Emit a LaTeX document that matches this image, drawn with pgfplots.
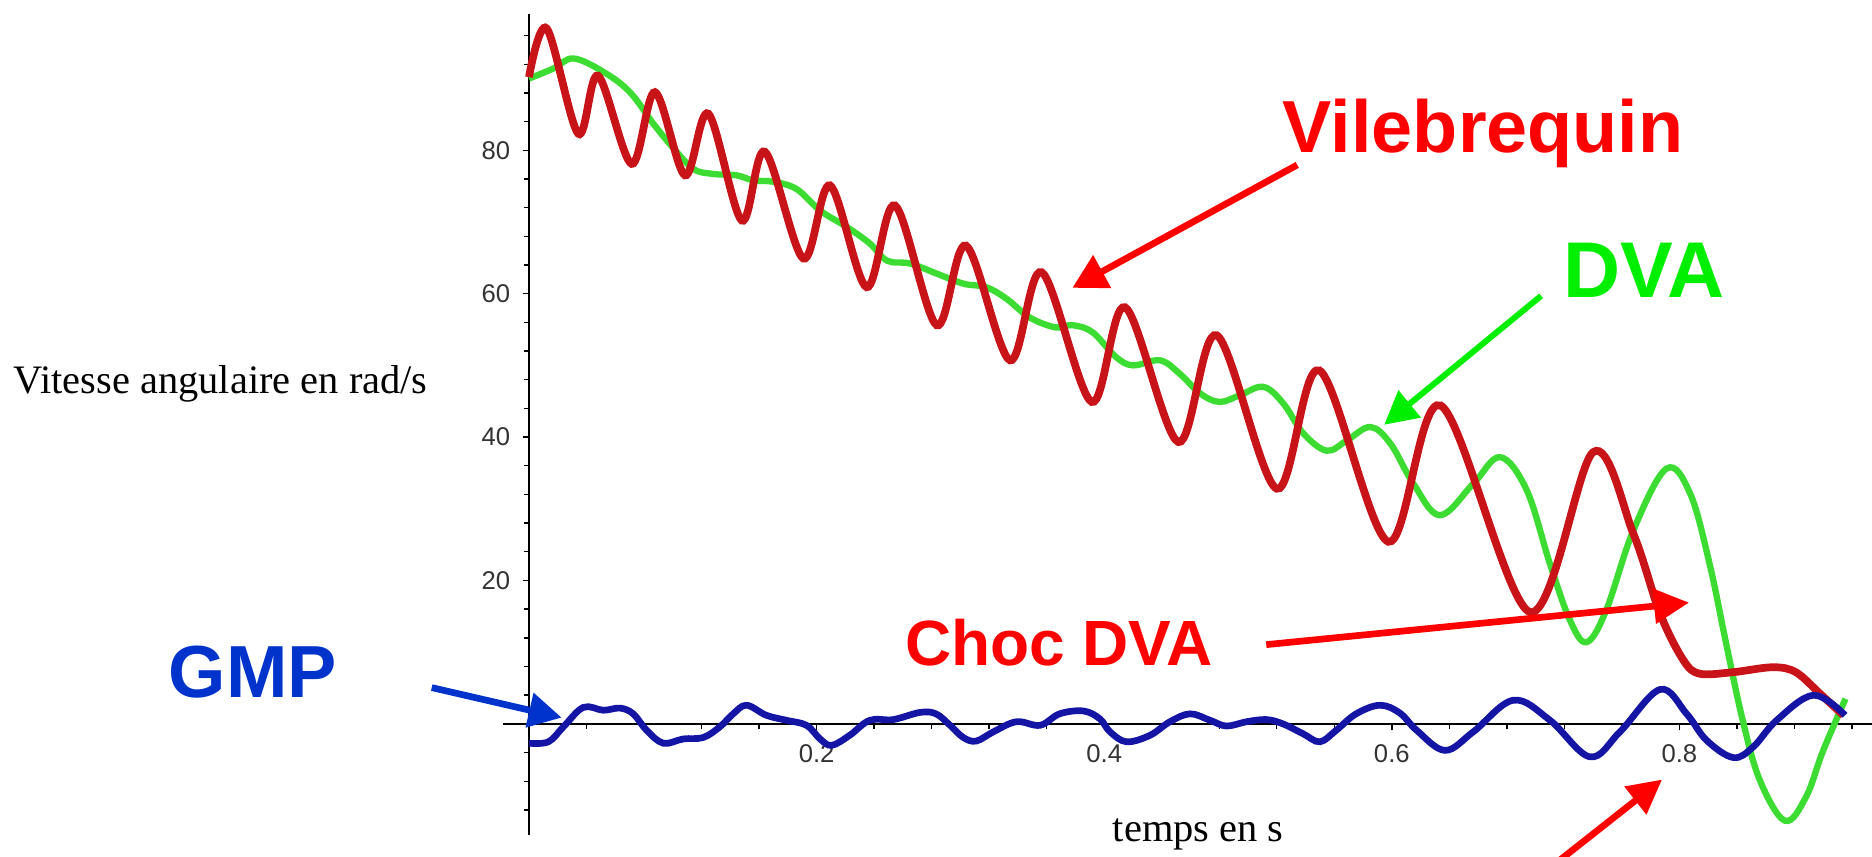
\documentclass[border=0pt]{standalone}
\usepackage{fontspec}
\setmainfont{Liberation Serif}
\setsansfont{Liberation Sans}
\usepackage{pgfplots}
\pgfplotsset{compat=1.18}
\usetikzlibrary{arrows.meta}
\definecolor{curvered}{RGB}{200,20,25}
\definecolor{curvegreen}{RGB}{60,220,50}
\definecolor{curveblue}{RGB}{20,20,165}
\definecolor{lblred}{RGB}{255,0,0}
\definecolor{lblgreen}{RGB}{0,238,0}
\definecolor{lblblue}{RGB}{0,51,204}
\begin{document}
\begin{tikzpicture}
\path[use as bounding box] (0,0) rectangle (18.72cm,8.56cm);
\begin{axis}[
  at={(5.031cm,0.21cm)}, anchor=south west,
  scale only axis, width=13.69cm, height=8.21cm,
  xmin=-0.018, xmax=0.934, ymin=-15.5, ymax=99,
  axis lines=middle, axis line style={-, line width=0.5pt, black},
  xtick={0.2,0.4,0.6,0.8}, ytick={20,40,60,80},
  xticklabels={0.2,0.4,0.6,0.8}, yticklabels={20,40,60,80},
  minor xtick={0.04,0.08,0.12,0.16,0.24,0.28,0.32,0.36,0.44,0.48,0.52,0.56,0.64,0.68,0.72,0.76,0.84,0.88,0.92},
  minor ytick={-12,-8,-4,4,8,12,16,24,28,32,36,44,48,52,56,64,68,72,76,84,88,92,96},
  tick align=outside, major tick length=1.8pt, minor tick length=1.4pt,
  tick style={black, line width=0.4pt},
  ticklabel style={font=\sffamily\fontsize{7.3}{8}\selectfont, text=black!80},
  xticklabel style={yshift=-0.5pt},
  clip=false,
]
\addplot[curvegreen, line width=1.8pt, smooth, tension=0.6] coordinates {
(0,90.0) (0.017,91.4) (0.031,92.8) (0.052,90.9) (0.0702,88.1) (0.0865,83.7)
(0.100,80.4) (0.1143,77.4) (0.128,76.7) (0.1444,76.5) (0.156,75.8) (0.170,75.6)
(0.186,74.6) (0.2024,71.6) (0.221,69.3) (0.237,67.0) (0.249,64.6) (0.265,64.2)
(0.2835,62.8) (0.302,61.4) (0.318,60.9) (0.332,59.3) (0.348,56.7) (0.366,55.3)
(0.378,55.6) (0.392,54.6) (0.408,51.2) (0.420,50.0) (0.4388,50.7) (0.4527,48.8)
(0.4666,46.1) (0.480,44.9) (0.494,45.8) (0.5106,47.0) (0.5245,44.7) (0.5385,40.5)
(0.5547,38.1) (0.5686,39.5) (0.585,41.4) (0.599,39.1) (0.615,33.5) (0.6335,29.1)
(0.6567,33.5) (0.6753,37.2) (0.6938,32.6) (0.710,22.3) (0.724,14.4) (0.7355,11.4)
(0.749,15.8) (0.768,27.0) (0.791,35.6) (0.8075,32.1) (0.821,22.3) (0.8325,11.2)
(0.844,0.5) (0.856,-7.9) (0.8734,-13.5) (0.888,-10.2) (0.900,-3.7) (0.9155,3.5)
};
\addplot[curvered, line width=2.2pt, smooth, tension=0.55] coordinates {
(0,90.2) (0.0123,97.0) (0.0343,82.3) (0.048,90.4) (0.0714,78.1) (0.0876,88.1)
(0.1085,76.5) (0.1247,85.1) (0.148,70.2) (0.164,79.8) (0.1908,64.9) (0.2093,75.1)
(0.2348,60.9) (0.2545,72.3) (0.2835,55.6) (0.3039,66.7) (0.3345,50.7) (0.3565,63.0)
(0.3913,44.9) (0.4145,58.1) (0.4516,39.3) (0.4782,54.2) (0.52,32.8) (0.5496,49.3)
(0.5976,25.4) (0.634,44.4) (0.696,15.6) (0.740,37.9) (0.768,26.5) (0.7865,15.4)
(0.8027,8.9) (0.814,7.0) (0.837,7.2) (0.865,7.9) (0.881,7.2) (0.8978,4.2) (0.914,1.2)
};
\addplot[curveblue, line width=1.9pt, smooth, tension=0.6] coordinates {
(0,-2.7) (0.0135,-2.5) (0.024,-0.4) (0.0378,2.3) (0.0517,1.9) (0.0633,2.2)
(0.0725,1.4) (0.0818,-0.9) (0.0934,-2.7) (0.1073,-2.1) (0.1212,-1.9) (0.1328,-0.4)
(0.142,1.4) (0.1513,2.6) (0.165,1.2) (0.179,0.5) (0.193,-0.2) (0.2024,-2.1)
(0.2105,-3.0) (0.223,-1.6) (0.237,0.5) (0.2533,0.6) (0.272,1.6) (0.283,1.4)
(0.2928,-0.2) (0.302,-1.9) (0.311,-2.4) (0.323,-1.1) (0.339,0.3) (0.3554,-0.2)
(0.369,1.4) (0.3855,1.8) (0.397,0.7) (0.404,-1.1) (0.4155,-2.5) (0.4318,-1.6)
(0.4457,0.3) (0.4597,1.4) (0.4736,0.5) (0.485,-0.3) (0.499,0.3) (0.5127,0.6)
(0.5243,0.0) (0.5385,-1.4) (0.550,-2.5) (0.5613,-0.9) (0.5752,1.4) (0.5918,2.6)
(0.6057,1.5) (0.6173,-0.9) (0.637,-3.7) (0.6567,-1.1) (0.6845,3.3) (0.710,0.5)
(0.7378,-4.6) (0.7587,-1.1) (0.7865,4.8) (0.805,1.4) (0.8189,-2.3) (0.8375,-4.7)
(0.8514,-3.2) (0.8676,0.5) (0.8932,4.0) (0.9152,1.2)
};
\end{axis}
\begin{scope}[x=0.01cm,y=-0.01cm,yshift=8.56cm]
  \node[anchor=base west, inner sep=0, font=\fontsize{11.5}{13}\selectfont] at (13,394) {Vitesse angulaire en rad/s};
  \node[anchor=base, inner sep=0, font=\fontsize{11.5}{13}\selectfont] at (1199,842) {temps en s};
  \node[anchor=base west, inner sep=0, text=lblred, font=\sffamily\bfseries\fontsize{21}{24}\selectfont] at (1283,153) {Vilebrequin};
  \node[anchor=base west, inner sep=0, text=lblgreen, font=\sffamily\bfseries\fontsize{22.5}{26}\selectfont] at (1564,298) {DVA};
  \node[anchor=base west, inner sep=0, text=lblred, font=\sffamily\bfseries\fontsize{18.2}{21}\selectfont] at (905,666) {Choc DVA};
  \node[anchor=base west, inner sep=0, text=lblblue, font=\sffamily\bfseries\fontsize{21}{24}\selectfont] at (168,698) {GMP};
  \draw[lblred, line width=1.9pt, -{Triangle[length=0.34cm,width=0.36cm]}] (1298,165) -- (1073,288);
  \draw[lblgreen, line width=1.7pt, -{Triangle[length=0.33cm,width=0.34cm]}] (1542,296) -- (1385,425);
  \draw[lblred, line width=1.9pt, -{Triangle[length=0.35cm,width=0.34cm]}] (1267,645) -- (1690,603);
  \draw[lblblue, line width=1.9pt, -{Triangle[length=0.33cm,width=0.34cm]}] (432,688) -- (562,718);
  \draw[lblred, line width=1.9pt, -{Triangle[length=0.34cm,width=0.34cm]}] (1540,877) -- (1663,780);
\end{scope}
\end{tikzpicture}
\end{document}
